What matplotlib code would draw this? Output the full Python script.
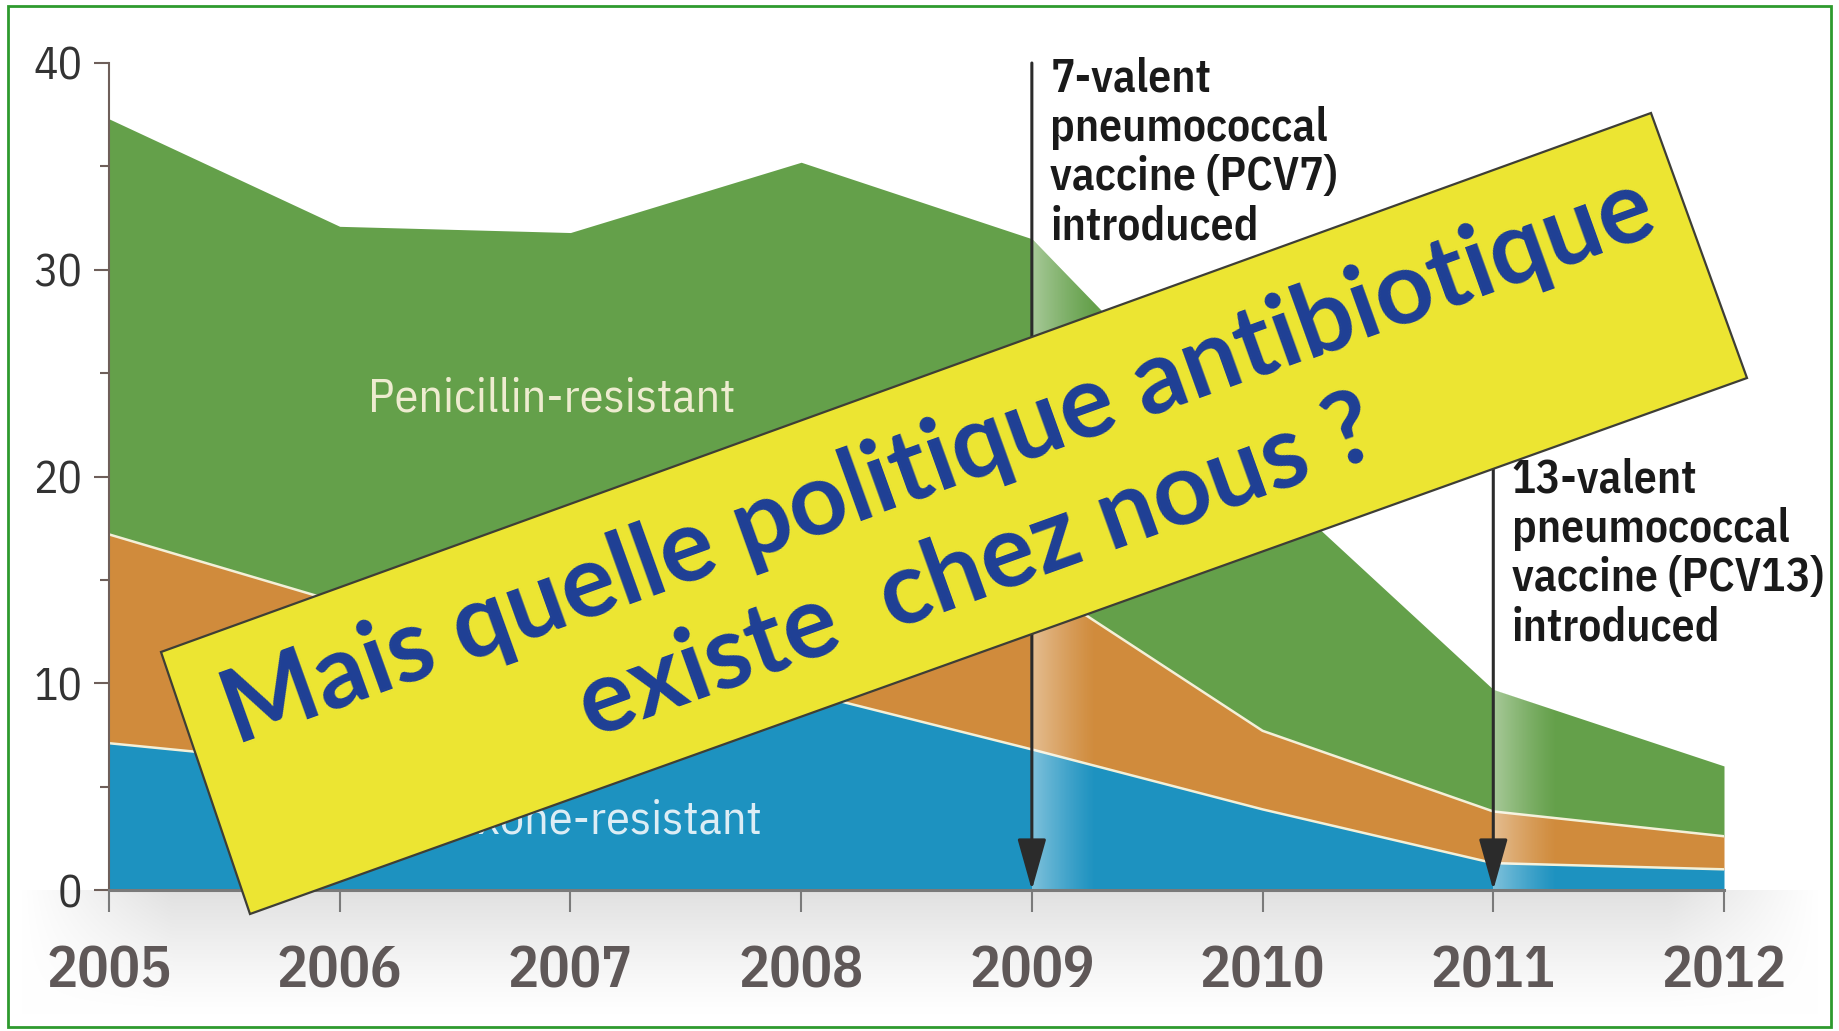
import numpy as np
import matplotlib
matplotlib.use('Agg')
import matplotlib.pyplot as plt
from matplotlib.patches import Polygon, Rectangle
from matplotlib import font_manager

# data (cumulative tops of each layer, %)
years = [2005, 2006, 2007, 2008, 2009, 2010, 2011, 2012]
penicillin_top = [37.3, 32.1, 31.8, 35.2, 31.5, 20.0, 9.7, 6.0]
middle_top = [17.2, 13.9, 14.5, 16.0, 15.0, 7.7, 3.8, 2.6]
ceftriaxone_top = [7.1, 6.0, 7.6, 9.6, 6.8, 3.9, 1.3, 1.0]

year_labels = ['2005', '2006', '2007', '2008', '2009', '2010', '2011', '2012']
y_major = [0, 10, 20, 30, 40]
y_minor = [5, 15, 25, 35]

vaccine_years = [2009, 2011]
vaccine_arrow_top = [40, 21.5]
vaccine_text_top = [40.3, 20.9]
vaccine_texts = ['7-valent\npneumococcal\nvaccine (PCV7)\nintroduced',
                 '13-valent\npneumococcal\nvaccine (PCV13)\nintroduced']

banner_text = 'Mais quelle politique antibiotique\nexiste  chez nous ?'

green = '#64a04a'
orange = '#d08b3c'
blue = '#1d92c0'
sep = '#f3f0d8'

available = {f.name for f in font_manager.fontManager.ttflist}
narrow = 'DejaVu Sans'
for name in ['IBM Plex Sans Condensed', 'PT Sans Narrow', 'Roboto Condensed', 'Liberation Sans Narrow']:
    if name in available:
        narrow = name
        break
banner_font = 'Lato' if 'Lato' in available else 'DejaVu Sans'

W, H = 1839, 1031
fig = plt.figure(figsize=(W / 100, H / 100), dpi=100)
fig.patch.set_facecolor('white')
renderer = fig.canvas.get_renderer()


def fit_size(text, target_px, **kw):
    # font size that makes one line of text target_px wide
    t = fig.text(0, 0, text, fontsize=100, **kw)
    w = t.get_window_extent(renderer).width
    t.remove()
    return 100 * target_px / w


label_size = fit_size('Penicillin-resistant', 368, family=narrow)
year_size = fit_size('2005', 125, family=narrow, fontweight='semibold')
ytick_size = fit_size('40', 49, family=narrow)
note_size = fit_size('pneumococcal', 278, family=narrow, fontweight='semibold')
banner_size = fit_size(banner_text.split('\n')[0], 1513, family=banner_font, fontweight='bold')

# soft grey band under the x axis
bg = fig.add_axes([0, 0, 1, 1], zorder=-1)
bg.set_xlim(0, W)
bg.set_ylim(H, 0)
bg.axis('off')
v = np.linspace(0, 1, 120)
h = np.linspace(0, 1, 400)
shade = 0.12 * (1 - v[:, None]) ** 1.2 * np.clip(np.minimum(h, 1 - h)[None, :] * 12, 0, 1)
band = np.dstack([1 - shade] * 3)
bg.imshow(band, extent=[20, 1820, 1015, 890], aspect='auto', interpolation='bilinear')

ax = fig.add_axes([109 / W, 1 - 890 / H, (1724 - 109) / W, (890 - 63) / H])
ax.patch.set_alpha(0)

ax.fill_between(years, middle_top, penicillin_top, color=green, lw=0, zorder=1)
ax.fill_between(years, ceftriaxone_top, middle_top, color=orange, lw=0, zorder=1)
ax.fill_between(years, 0, ceftriaxone_top, color=blue, lw=0, zorder=1)
ax.plot(years, middle_top, color=sep, lw=1.8, zorder=2)
ax.plot(years, ceftriaxone_top, color=sep, lw=1.8, zorder=2)

# lighter fade just after each vaccine introduction
area = Polygon(list(zip(years, penicillin_top)) + [(years[-1], 0), (years[0], 0)],
               closed=True, transform=ax.transData)
for vx in vaccine_years:
    fade = np.ones((1, 80, 4))
    fade[..., 3] = np.linspace(0.5, 0, 80) ** 1.2
    im = ax.imshow(fade, extent=[vx, vx + 0.28, 0, 40], aspect='auto',
                   interpolation='bilinear', zorder=3)
    im.set_clip_path(area)

for vx, atop, ttop, txt in zip(vaccine_years, vaccine_arrow_top, vaccine_text_top, vaccine_texts):
    ax.annotate('', xy=(vx, 0), xytext=(vx, atop),
                arrowprops=dict(arrowstyle='-|>,head_length=1.6,head_width=0.45',
                                color='#2b2b2b', lw=2.2, shrinkA=0, shrinkB=0,
                                mutation_scale=20), zorder=4)
    ax.text(vx + 0.08, ttop, txt, ha='left', va='top', fontsize=note_size, fontweight='semibold',
            family=narrow, color='#1a1a1a', linespacing=1.15, zorder=4)

ax.text(2006.92, 23.75, 'Penicillin-resistant', ha='center', va='center',
        fontsize=label_size, color='#eeecd0', family=narrow, zorder=4)
ax.text(2007.83, 3.35, 'Ceftriaxone-resistant', ha='right', va='center',
        fontsize=label_size, color='#dcedf5', family=narrow, zorder=4)

ax.set_xlim(2005, 2012)
ax.set_ylim(0, 40)
for s in ['top', 'right']:
    ax.spines[s].set_visible(False)
ax.spines['left'].set_color('#6e5f5a')
ax.spines['left'].set_linewidth(1.5)
ax.spines['bottom'].set_color('#7a7a7a')
ax.spines['bottom'].set_linewidth(2.2)
ax.spines['bottom'].set_zorder(5)

ax.set_yticks(y_major)
ax.set_yticks(y_minor, minor=True)
ax.set_xticks(years)
ax.set_xticklabels(year_labels)
ax.tick_params(axis='y', which='major', length=11, width=1.5, color='#6e5f5a',
               labelsize=ytick_size, labelcolor='#333333', pad=8)
ax.tick_params(axis='y', which='minor', length=6.5, width=1.5, color='#6e5f5a')
ax.tick_params(axis='x', which='major', length=16, width=1.5, color='#7a7a7a',
               labelsize=year_size, labelcolor='#5f5858', pad=23)
for lab in ax.get_xticklabels() + ax.get_yticklabels():
    lab.set_family(narrow)
for lab in ax.get_xticklabels():
    lab.set_fontweight('semibold')

# yellow banner stuck across the chart
ov = fig.add_axes([0, 0, 1, 1], zorder=10)
ov.set_xlim(0, W)
ov.set_ylim(H, 0)
ov.axis('off')
ov.add_patch(Polygon([(250, 914), (161, 652), (1651, 113), (1747, 378)], closed=True,
                     facecolor='#ece532', edgecolor='#3e3e36', lw=1.6))
ov.text(958, 515, banner_text, rotation=19.8, rotation_mode='anchor', ha='center',
        va='center', multialignment='center', fontsize=banner_size, fontweight='bold',
        family=banner_font, color='#1e3f96', linespacing=1.3)
ov.add_patch(Rectangle((8, 6), W - 16, H - 10, fill=False, edgecolor='#2e9a2e', lw=2))

fig.savefig('out.png', dpi=100)
